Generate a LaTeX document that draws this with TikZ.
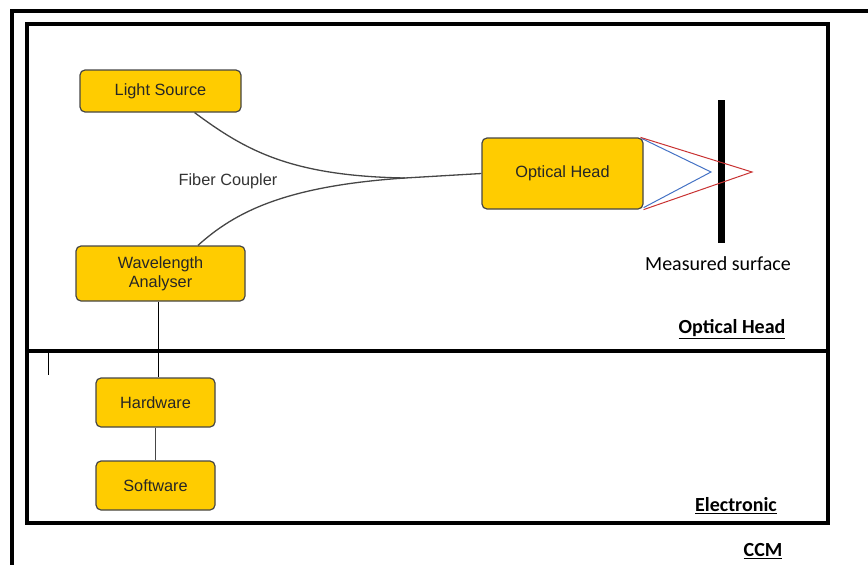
\documentclass[tikz,border=0pt]{standalone}
\usepackage{fontspec}
\setmainfont{Liberation Sans}
\newfontfamily\calibri{Carlito}
\usetikzlibrary{calc}
\definecolor{boxfill}{RGB}{255,204,0}
\definecolor{boxline}{RGB}{70,70,70}
\definecolor{rayblue}{RGB}{68,114,196}
\definecolor{rayred}{RGB}{200,50,50}
\tikzset{
  block/.style={draw=boxline, fill=boxfill, line width=1.2pt, rounded corners=5pt,
    font=\fontsize{16.3}{19}\selectfont, text=black!85, align=center, inner sep=0pt},
  frame/.style={line width=3.5pt, line join=miter},
  fiber/.style={draw=boxline, line width=1.3pt},
  wire/.style={draw=black, line width=1pt},
  zone/.style={font=\calibri\bfseries\fontsize{20}{22}\selectfont, anchor=center}
}
\begin{document}
\begin{tikzpicture}[x=1pt, y=-1pt]
\useasboundingbox (0,0) rectangle (868,565);

% outer CCM frame (open at the bottom and right)
\draw[frame] (12,565) -- (12,11) -- (870,11);
% optical head and electronic compartments
\draw[frame] (27,24) rectangle (828,523);
\draw[frame] (27,351) -- (828,351);
\draw[line width=0.8pt] (48,352) -- (48,375);

% blocks
\node[block, minimum width=161pt, minimum height=42pt] (ls) at (160.5,91) {Light Source};
\node[block, minimum width=169pt, minimum height=55pt] (wa) at (160.5,273.5) {Wavelength\\Analyser};
\node[block, minimum width=161pt, minimum height=71pt] (oh) at (562.5,173.5) {Optical Head};
\node[block, minimum width=119pt, minimum height=49pt] (hw) at (155.5,402.5) {Hardware};
\node[block, minimum width=119pt, minimum height=49pt] (sw) at (155.5,485.5) {Software};

% fiber coupler
\coordinate (j) at (405,178);
\path[fiber] ($(ls.south west)!0.71!(ls.south east)$) .. controls (245,150) and (290,176) .. (j);
\path[fiber] ($(wa.north west)!0.72!(wa.north east)$) .. controls (235,212) and (285,186) .. (j);
\path[fiber] (j) -- (oh.west);
\node[font=\fontsize{16.3}{19}\selectfont, text=black!80] (fc) at (228,181) {Fiber Coupler};

% electrical links
\draw[wire] (wa.south -| 158,0) -- (hw.north -| 158,0);
\draw[draw=boxline, line width=1.2pt] (hw) -- (sw);

% measured surface and beams
\node[fill=black, minimum width=7pt, minimum height=143pt, inner sep=0pt] (ms) at (721,171.5) {};
\coordinate (ba) at (711,172);
\coordinate (ra) at (752,172);
\draw[rayblue, line width=1pt] ($(oh.north east)+(-2,1)$) -- (ba) -- ($(oh.south east)+(0,-2)$);
\draw[rayred, line width=1pt] ($(oh.north east)+(-3,0)$) -- (ra) -- ($(oh.south east)+(0,0)$);
\node[font=\calibri\fontsize{20}{22}\selectfont] (mst) at (718,264) {Measured surface};

% compartment labels
\node[zone] (lo) at (732,329.5) {\underline{Optical Head}};
\node[zone] (le) at (736,506) {\underline{Electronic}};
\node[zone] (lc) at (763,551) {\underline{CCM}};
\end{tikzpicture}
\end{document}
